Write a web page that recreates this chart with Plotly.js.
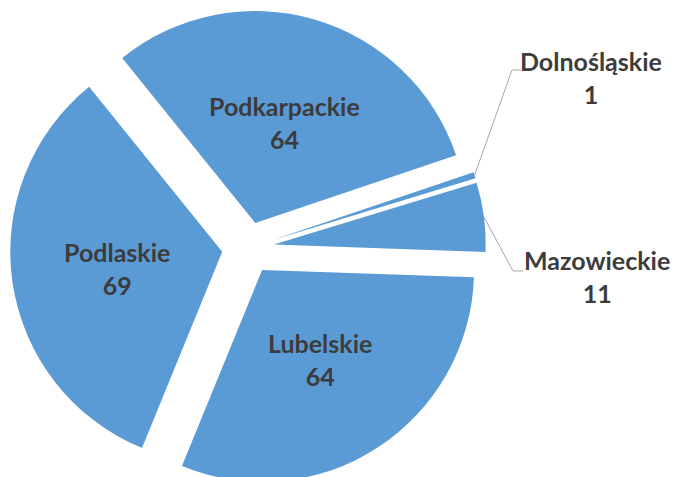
<!DOCTYPE html>
<html><head><meta charset="utf-8">
<script src="https://cdn.plot.ly/plotly-3.0.1.min.js"></script>
<style>html,body{margin:0;padding:0;overflow:hidden;background:#fff}#chart{width:673px;height:500px}</style>
</head><body><div id="chart"></div>
<script>
// ---- data ----
const categories = ['Mazowieckie', 'Dolnośląskie', 'Podkarpackie', 'Podlaskie', 'Lubelskie'];
const values = [11, 1, 64, 69, 64];
const labelInside = [false, false, true, true, true];

// ---- layout constants ----
const W = 673, H = 500;
const START_ANGLE = -2;          // math degrees where the first slice begins
const PULL = 0.123;
const INSIDE_R = 0.5;            // label distance from slice apex, fraction of radius
const dom = {x: [10 / W, 486 / W], y: [(H - 486) / H, (H - 10) / H]};
const total = values.reduce((a, b) => a + b, 0);
const rotation = 90 - START_ANGLE - values[0] / total * 360;
const textColor = '#3c3c3c';
const FONT = 'Lato, "Open Sans", sans-serif';
const labelFont = {family: FONT, size: 25, color: textColor, weight: 700};

// pie geometry in pixels, mirroring plotly's own scaling
const boxW = W * (dom.x[1] - dom.x[0]), boxH = H * (dom.y[1] - dom.y[0]);
const r = Math.min(boxW, boxH) / (2 + 2 * PULL);
const cx = W * (dom.x[0] + dom.x[1]) / 2;
const cy = H * (1 - (dom.y[0] + dom.y[1]) / 2);
function midAngle(i) {
  let cum = 0;
  for (let k = 0; k < i; k++) cum += values[k];
  return (START_ANGLE + (cum + values[i] / 2) / total * 360) * Math.PI / 180;
}
function radialPoint(i, frac) {
  const a = midAngle(i), R = r * frac;
  return [cx + R * Math.cos(a), cy - R * Math.sin(a)];
}
const px = x => x / W, py = y => 1 - y / H;

// outside labels (text anchor positions in px) and leader-line elbows
const outside = [
  {i: 1, tx: 591, ty: 77, elbow: [[521, 70], [512, 70]]},
  {i: 0, tx: 597, ty: 276, elbow: [[523, 271], [513, 271]]}
];

const annotations = outside.map(o => ({
  xref: 'paper', yref: 'paper', x: px(o.tx), y: py(o.ty),
  xanchor: 'center', yanchor: 'middle', showarrow: false,
  text: categories[o.i] + '<br>' + values[o.i], font: labelFont
}));
categories.forEach((c, i) => {
  if (!labelInside[i]) return;
  const p = radialPoint(i, PULL + INSIDE_R);
  annotations.push({
    xref: 'paper', yref: 'paper', x: px(p[0]), y: py(p[1] + 1),
    xanchor: 'center', yanchor: 'middle', showarrow: false,
    text: c + '<br>' + values[i], font: labelFont
  });
});
const shapes = outside.map(o => {
  const end = radialPoint(o.i, 1 + PULL);
  const pts = [o.elbow[0], o.elbow[1], end];
  const d = pts.map((p, k) => (k ? 'L' : 'M') + px(p[0]).toFixed(5) + ',' + py(p[1]).toFixed(5)).join(' ');
  return {type: 'path', xref: 'paper', yref: 'paper', path: d,
          line: {color: '#a6a6a6', width: 1}};
});

const trace = {
  type: 'pie',
  labels: categories,
  values: values,
  sort: false,
  direction: 'counterclockwise',
  rotation: rotation,
  pull: values.map(() => PULL),
  domain: dom,
  marker: {colors: values.map(() => '#5b9bd5'), line: {width: 0}},
  textinfo: 'none',
  hoverinfo: 'none',
  showlegend: false
};

Plotly.newPlot('chart', [trace], {
  width: W, height: H,
  margin: {l: 0, r: 0, t: 0, b: 0},
  paper_bgcolor: '#fff', plot_bgcolor: '#fff',
  showlegend: false,
  annotations: annotations,
  shapes: shapes
}, {staticPlot: true, displayModeBar: false});
</script>
</body></html>
